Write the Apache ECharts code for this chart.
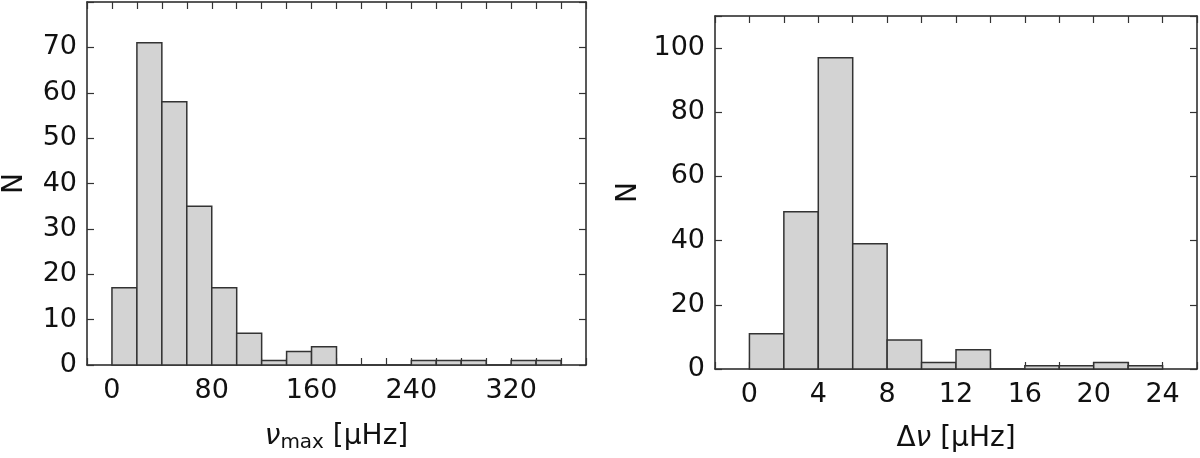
<!DOCTYPE html>
<html><head><meta charset="utf-8">
<script src="https://cdn.jsdelivr.net/npm/echarts@6/dist/echarts.min.js"></script>
<style>html,body{margin:0;padding:0;background:#fff}#c{width:1200px;height:458px}</style>
</head><body><div id="c"></div>
<script>
const numaxBinStart = [0,20,40,60,80,100,120,140,160,180,200,220,240,260,280,300,320,340];
const numaxCounts   = [17,71,58,35,17,7,1,3,4,0,0,0,1,1,1,0,1,1];
const numaxBinWidth = 20;
const dnuBinStart = [0,2,4,6,8,10,12,14,16,18,20,22];
const dnuCounts   = [11,49,97,39,9,2,6,0,1,1,2,1];
const dnuBinWidth = 2;

const FONT = 'DejaVu Sans';
const chart = echarts.init(document.getElementById('c'));
function rend(w){
  return function(params, api){
    const x0 = api.value(0), n = api.value(1);
    const p0 = api.coord([x0, 0]), p1 = api.coord([x0 + w, n]);
    return {type:'rect', shape:{x:p0[0], y:p1[1], width:p1[0]-p0[0], height:p0[1]-p1[1]},
      style:{fill:'#d3d3d3', stroke:'#333', lineWidth:1.5}};
  };
}
const line = {show:true, onZero:false, lineStyle:{color:'#222', width:1.5}};
function xAx(gi, min, max, iv, lblEvery, name, top){
  return {type:'value', gridIndex:gi, min, max, interval:iv, position: top?'top':'bottom',
    axisLine:line, splitLine:{show:false},
    axisTick:{show:true, inside:true, length:7, lineStyle:{color:'#333', width:1.2}},
    axisLabel:{show:!top, fontFamily:FONT, fontSize:27, color:'#111', margin:12,
      formatter:v=> (v>=0 && Math.abs(v%lblEvery)<1e-9) ? String(v) : ''},
    name: top?'':name, nameLocation:'middle', nameGap:56,
    nameTextStyle:{fontFamily:FONT, fontSize:28, color:'#111',
      rich:{i:{fontFamily:FONT,fontSize:28,fontStyle:'italic',color:'#111'},
            s:{fontFamily:FONT,fontSize:20,color:'#111',verticalAlign:'bottom',padding:[12,0,0,0]},
            n:{fontFamily:FONT,fontSize:28,color:'#111'}}}};
}
function yAx(gi, min, max, iv, maxLbl, right){
  return {type:'value', gridIndex:gi, min, max, interval:iv, position: right?'right':'left',
    axisLine:line, splitLine:{show:false},
    axisTick:{show:true, inside:true, length:7, lineStyle:{color:'#333', width:1.2}},
    axisLabel:{show:!right, fontFamily:FONT, fontSize:27, color:'#111', margin:10,
      formatter:v=> v<=maxLbl ? String(v) : ''},
    name: right?'':'N', nameLocation:'middle', nameGap: gi===0?58:72,
    nameTextStyle:{fontFamily:FONT, fontSize:28, color:'#111'}};
}
chart.setOption({
  animation:false,
  grid:[{left:85, right:614, top:2, bottom:84},{left:715, right:2, top:16, bottom:81}],
  xAxis:[
    xAx(0,-20,380,20,80,'{i|ν}{s|max}{n| [μHz]}',false),
    xAx(0,-20,380,20,80,'',true),
    xAx(1,-2,26,2,4,'Δ{i|ν}{n| [μHz]}',false),
    xAx(1,-2,26,2,4,'',true)
  ],
  yAxis:[
    yAx(0,0,80,10,70,false), yAx(0,0,80,10,70,true),
    yAx(1,0,110,20,100,false), yAx(1,0,110,20,100,true)
  ],
  series:[
    {type:'custom', xAxisIndex:0, yAxisIndex:0, renderItem:rend(numaxBinWidth),
      data: numaxBinStart.map((s,i)=>[s, numaxCounts[i]]), encode:{x:0,y:1}},
    {type:'custom', xAxisIndex:2, yAxisIndex:2, renderItem:rend(dnuBinWidth),
      data: dnuBinStart.map((s,i)=>[s, dnuCounts[i]]), encode:{x:0,y:1}}
  ]
});
</script></body></html>
